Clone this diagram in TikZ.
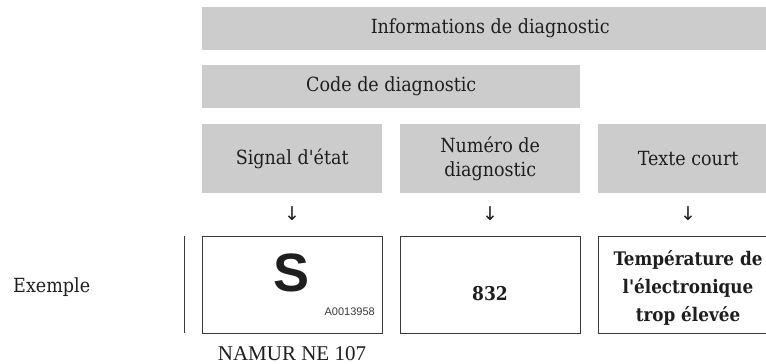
\documentclass[tikz,border=0pt]{standalone}
\usepackage{fontspec}
\newfontfamily\slab{DejaVu Serif Condensed}
\newfontfamily\sansfont{Liberation Sans}
\newfontfamily\namurfont{Liberation Serif}
\newfontfamily\arrowfont{DejaVu Sans}
\definecolor{boxgray}{HTML}{CCCCCC}
\definecolor{textdark}{HTML}{1E1E1E}
\definecolor{edge}{HTML}{3A3A3A}
\begin{document}
\begin{tikzpicture}[x=1pt,y=1pt,
  graybox/.style={fill=boxgray, draw=none, inner sep=0pt, text=textdark,
    font=\slab\fontsize{19.5}{24}\selectfont, align=center, anchor=north west},
  whitebox/.style={draw=edge, line width=0.9pt, fill=white, minimum width=180pt,
    minimum height=97pt, inner sep=0pt, anchor=north west},
  lbl/.style={text=textdark, font=\slab\fontsize{19.5}{24}\selectfont, inner sep=0pt},
  downarrow/.style={text=textdark, font=\arrowfont\fontsize{19}{19}\selectfont, inner sep=0pt}]
\useasboundingbox (0,0) rectangle (766,-364);
\begin{scope}
\clip (0,0) rectangle (766,-364);
% header bars
\node[graybox, minimum width=576pt, minimum height=43pt] (info) at (202,-7) {Informations de diagnostic};
\node[graybox, minimum width=378pt, minimum height=43pt] (code) at (202,-65) {Code de diagnostic};
% column headers
\node[graybox, minimum width=180pt, minimum height=69pt] (sig) at (202,-124) {Signal d'état};
\node[graybox, minimum width=180pt, minimum height=69pt] (num) at (400,-124) {Numéro de\\diagnostic};
\node[graybox, minimum width=180pt, minimum height=69pt] (txt) at (598,-124) {Texte court};
% arrows
\node[downarrow] (a1) at (292,-213.5) {↓};
\node[downarrow] (a2) at (490,-213.5) {↓};
\node[downarrow] (a3) at (688,-213.5) {↓};
% example boxes
\node[whitebox] (b1) at (202,-236) {};
\node[whitebox] (b2) at (400,-236) {};
\node[whitebox] (b3) at (598,-236) {};
\node[text=textdark, font=\sansfont\bfseries\fontsize{54}{54}\selectfont, inner sep=0pt, anchor=base] (s) at (292,-291) {S};
\node[text=edge, font=\sansfont\fontsize{11}{11}\selectfont, inner sep=0pt, anchor=base east] (ref) at (375,-315) {A0013958};
\node[lbl, font=\slab\bfseries\fontsize{19}{24}\selectfont, anchor=base] (n832) at (490,-300) {832};
\node[lbl, font=\slab\bfseries\fontsize{18.7}{28}\selectfont, align=center, anchor=base] (short) at (688,-321) {Température de\\l'électronique\\trop élevée};
% left label and separator
\node[lbl, anchor=base west] (ex) at (13,-292) {Exemple};
\coordinate (v1) at (184,-236);
\coordinate (v2) at (184,-333);
\draw[edge, line width=0.9pt] (v1) -- (v2);
% caption
\node[text=textdark, font=\namurfont\fontsize{21}{21}\selectfont, inner sep=0pt, anchor=base] (namur) at (292,-360) {NAMUR NE 107};
\end{scope}
\end{tikzpicture}
\end{document}
